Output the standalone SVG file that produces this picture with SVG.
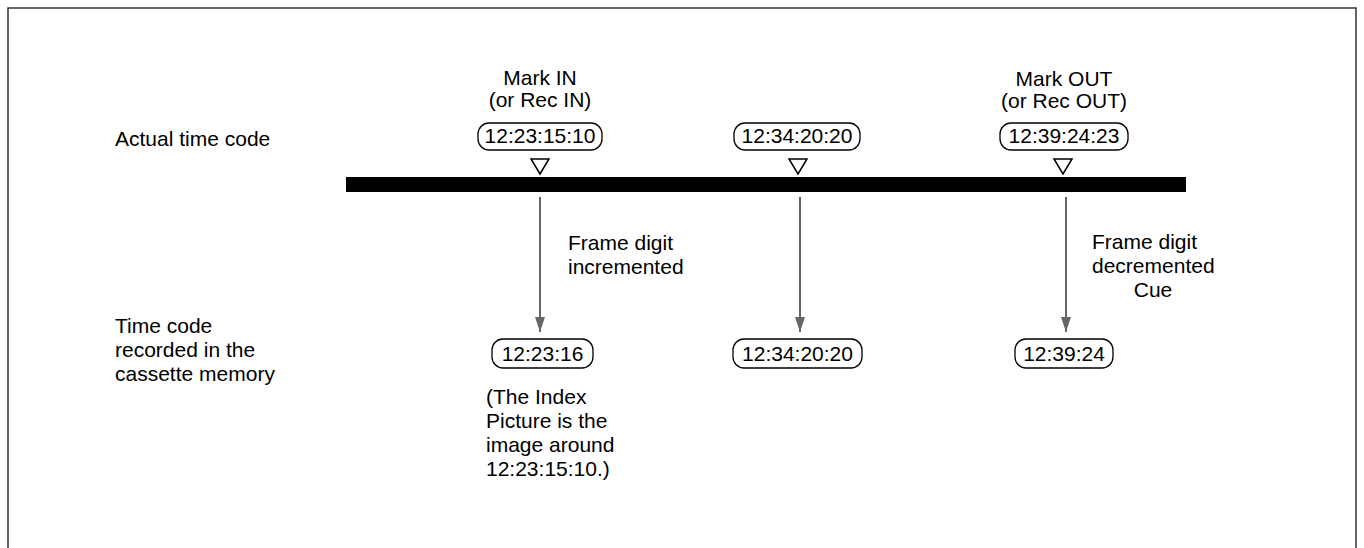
<svg xmlns="http://www.w3.org/2000/svg" width="1364" height="548" viewBox="0 0 1364 548">
<defs>
<style>
text{font-family:"Liberation Sans",Arial,sans-serif;font-size:21px;fill:#000}
.pill{fill:#fff;stroke:#000;stroke-width:1.3}
.mid{text-anchor:middle}
.tri{fill:#fff;stroke:#000;stroke-width:1.5}
.arr{stroke:#666;stroke-width:2;fill:none}
</style>
<marker id="ah" viewBox="0 0 15 10" refX="15" refY="5" markerWidth="15" markerHeight="10" markerUnits="userSpaceOnUse" orient="auto">
<path d="M0,0 L15,5 L0,10 Z" fill="#666"/>
</marker>
</defs>
<rect width="1364" height="548" fill="#fff"/>
<path d="M8,560 V8 H1356 V560" fill="none" stroke="#333" stroke-width="1.5"/>

<g id="labels">
<text x="115" y="146">Actual time code</text>
<text x="115" y="333">Time code</text>
<text x="115" y="357">recorded in the</text>
<text x="115" y="381">cassette memory</text>
</g>

<g id="bar"><rect x="346" y="177" width="840" height="15" fill="#000"/></g>

<g id="mark-in">
<text class="mid" x="540" y="85">Mark IN</text>
<text class="mid" x="540" y="107">(or Rec IN)</text>
<rect class="pill" x="478" y="123" width="124" height="27" rx="11"/>
<text class="mid" x="540" y="143">12:23:15:10</text>
<path class="tri" d="M531,159 H549 L540,174 Z"/>
</g>

<g id="mid-point">
<rect class="pill" x="734" y="123" width="126" height="27" rx="11"/>
<text class="mid" x="797" y="143">12:34:20:20</text>
<path class="tri" d="M789,159 H807 L798,174 Z"/>
</g>

<g id="mark-out">
<text class="mid" x="1064" y="86">Mark OUT</text>
<text class="mid" x="1064" y="108">(or Rec OUT)</text>
<rect class="pill" x="1000" y="123" width="128" height="27" rx="11"/>
<text class="mid" x="1064" y="143">12:39:24:23</text>
<path class="tri" d="M1054,159 H1072 L1063,174 Z"/>
</g>

<g id="rec-in">
<rect class="pill" x="492" y="339" width="101" height="29" rx="11"/>
<text class="mid" x="542.5" y="361">12:23:16</text>
<text x="486" y="404">(The Index</text>
<text x="486" y="428">Picture is the</text>
<text x="486" y="452">image around</text>
<text x="486" y="476">12:23:15:10.)</text>
</g>

<g id="rec-mid">
<rect class="pill" x="733" y="339" width="129" height="29" rx="11"/>
<text class="mid" x="797.5" y="361">12:34:20:20</text>
</g>

<g id="rec-out">
<rect class="pill" x="1015" y="339" width="98" height="29" rx="11"/>
<text class="mid" x="1064" y="361">12:39:24</text>
</g>

<g id="connectors">
<line class="arr" x1="540" y1="197" x2="540" y2="332" marker-end="url(#ah)"/>
<line class="arr" x1="800" y1="197" x2="800" y2="332" marker-end="url(#ah)"/>
<line class="arr" x1="1066" y1="197" x2="1066" y2="332" marker-end="url(#ah)"/>
<text x="568" y="250">Frame digit</text>
<text x="568" y="274">incremented</text>
<text x="1092" y="249">Frame digit</text>
<text x="1092" y="273">decremented</text>
<text class="mid" x="1153" y="297">Cue</text>
</g>
</svg>
